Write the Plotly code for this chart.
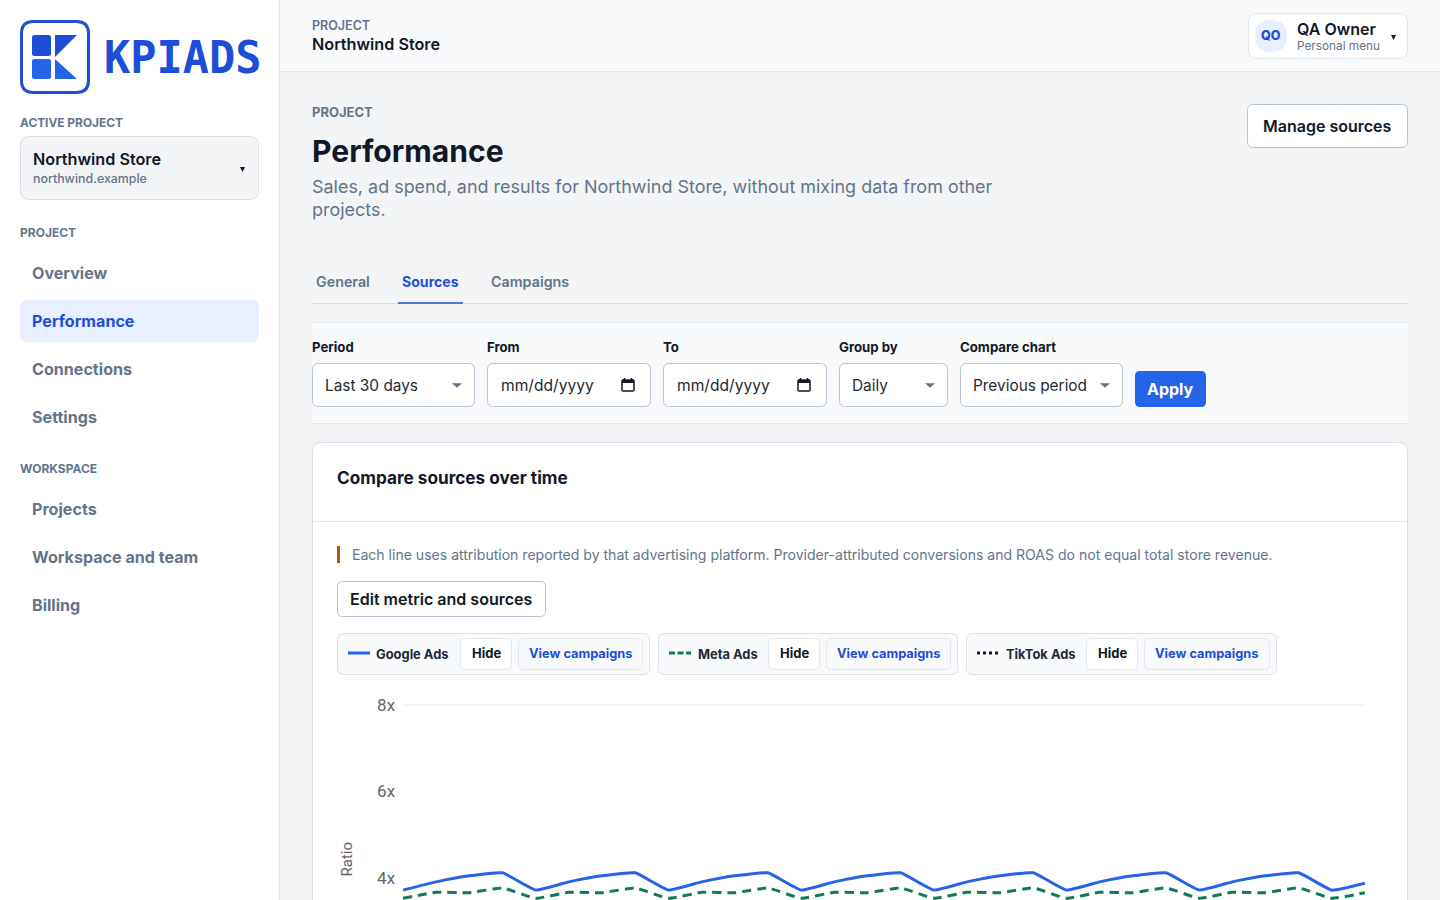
import plotly.graph_objects as go

# ---- chart data ----
day_index = list(range(30))
google_ads = [3.72, 3.91, 4.05, 4.12, 3.72, 3.91, 4.05, 4.12, 3.72, 3.91, 4.05, 4.12, 3.72, 3.91, 4.05,
              4.12, 3.72, 3.91, 4.05, 4.12, 3.72, 3.91, 4.05, 4.12, 3.72, 3.91, 4.05, 4.12, 3.72, 3.88]
meta_ads = [3.53, 3.67, 3.66, 3.77, 3.53, 3.67, 3.66, 3.77, 3.53, 3.67, 3.66, 3.77, 3.53, 3.67, 3.66,
            3.77, 3.53, 3.67, 3.66, 3.77, 3.53, 3.67, 3.66, 3.77, 3.53, 3.67, 3.66, 3.77, 3.53, 3.66]
tick_values = [4, 6, 8]
tick_labels = ["4x", "6x", "8x"]

W, H = 1440, 900
BLUE, BLUE2, GREEN, INK, SLATE = "#1d4ed8", "#2563eb", "#0f7a5c", "#111827", "#64748b"
LINE, LINE2 = "#e2e8f0", "#b8c4d6"
FONT = "Inter"


def px(x):
    return x / W


def py(y):
    return 1 - y / H


shapes, annos = [], []


def P(x, y):
    return f"{px(x):.6f},{py(y):.6f}"


def rr(x0, y0, x1, y1, r=0, fill=None, line=None, lw=1):
    if r:
        d = (f"M{P(x0+r,y0)} L{P(x1-r,y0)} Q{P(x1,y0)} {P(x1,y0+r)} L{P(x1,y1-r)} Q{P(x1,y1)} {P(x1-r,y1)} "
             f"L{P(x0+r,y1)} Q{P(x0,y1)} {P(x0,y1-r)} L{P(x0,y0+r)} Q{P(x0,y0)} {P(x0+r,y0)} Z")
    else:
        d = f"M{P(x0,y0)} L{P(x1,y0)} L{P(x1,y1)} L{P(x0,y1)} Z"
    shapes.append(dict(type="path", path=d, xref="paper", yref="paper", layer="below",
                       fillcolor=fill or "rgba(0,0,0,0)",
                       line=dict(color=line or "rgba(0,0,0,0)", width=lw if line else 0)))


def poly(pts, fill):
    d = "M" + " L".join(P(*p) for p in pts) + " Z"
    shapes.append(dict(type="path", path=d, xref="paper", yref="paper", layer="below",
                       fillcolor=fill, line=dict(width=0, color="rgba(0,0,0,0)")))


def seg(x0, y0, x1, y1, color, w=1, dash=None):
    shapes.append(dict(type="line", xref="paper", yref="paper", layer="below", x0=px(x0), x1=px(x1),
                       y0=py(y0), y1=py(y1), line=dict(color=color, width=w, dash=dash or "solid")))


def txt(x, y, s, size=16, weight=400, color=INK, anchor="left", family=FONT):
    annos.append(dict(xref="paper", yref="paper", x=px(x), y=py(y), text=s, showarrow=False,
                      xanchor=anchor, yanchor="middle", borderpad=0, borderwidth=0,
                      font=dict(family=family, size=size, weight=weight, color=color)))


def caret(cx, cy, w=5, h=5, fill=INK):
    poly([(cx - w / 2, cy - h / 2), (cx + w / 2, cy - h / 2), (cx, cy + h / 2)], fill)


def calendar(cx, cy):
    rr(cx - 6, cy - 5, cx + 6, cy + 6, 1, None, INK, 1.5)
    rr(cx - 6, cy - 5, cx + 6, cy - 2, 0, INK)
    seg(cx - 3.5, cy - 7, cx - 3.5, cy - 5, INK, 1.5)
    seg(cx + 3.5, cy - 7, cx + 3.5, cy - 5, INK, 1.5)


# page regions
rr(0, 0, 1440, 900, 0, "#f3f4f6")
rr(280, 0, 1440, 71, 0, "#f9fafb")
rr(0, 0, 279, 900, 0, "#ffffff")
seg(279.5, 0, 279.5, 900, LINE)
seg(280, 71.5, 1440, 71.5, LINE)

# logo
rr(21.5, 21.5, 88.5, 92.5, 12, "#ffffff", BLUE, 3)
rr(32, 35, 51, 56, 2.5, BLUE)
rr(32, 59, 51, 79, 2.5, BLUE2)
poly([(55, 35), (77, 35), (55, 57)], BLUE)
poly([(55, 59), (77, 79), (55, 79)], BLUE2)
txt(103.5, 58, "KPIADS", 43.6, 700, BLUE, family="DejaVu Sans Mono")

# sidebar
txt(20, 122.6, "ACTIVE PROJECT", 11.9, 700, SLATE)
rr(20.5, 136.5, 258.5, 199.5, 9, "#f3f4f6", "#d8dee8")
txt(33, 159, "Northwind Store", 16.2, 600, INK)
txt(33, 178.6, "northwind.example", 12.4, 500, SLATE)
caret(242.5, 169.5)
txt(20, 232.6, "PROJECT", 12, 700, SLATE)
rr(20, 300, 259, 342, 8, "#e8effe")
for label, y, active in [("Overview", 273, 0), ("Performance", 321, 1), ("Connections", 369, 0), ("Settings", 417, 0),
                         ("Projects", 509, 0), ("Workspace and team", 557, 0), ("Billing", 605, 0)]:
    txt(32, y, label, 16.1, 700, BLUE if active else SLATE)
txt(20, 468.6, "WORKSPACE", 12, 700, SLATE)

# header
txt(312, 26, "PROJECT", 12.5, 600, SLATE)
txt(312, 44, "Northwind Store", 16.2, 600, INK)
rr(1248.5, 13.5, 1407.5, 58.5, 9, "#ffffff", LINE)
rr(1255, 20, 1287, 52, 16, "#e8effe")
txt(1271, 35.5, "QO", 12.5, 800, BLUE, "center")
txt(1297, 29, "QA Owner", 16, 600, INK)
txt(1297, 46, "Personal menu", 11.8, 400, SLATE)
caret(1393.5, 37.5)

# title block
txt(312, 112, "PROJECT", 13, 700, SLATE)
txt(312, 151, "Performance", 30.1, 700, INK)
txt(312, 186, "Sales, ad spend, and results for Northwind Store, without mixing data from other", 17.95, 400, SLATE)
txt(312, 209, "projects.", 17.95, 400, SLATE)
rr(1247.5, 104.5, 1407.5, 147.5, 6, "#ffffff", LINE2)
txt(1327.5, 126, "Manage sources", 16, 600, INK, "center")

# tabs
seg(312, 303.5, 1408, 303.5, "#d8dee8")
seg(398, 303, 463, 303, BLUE, 1.5)
txt(316, 281.4, "General", 14.3, 600, SLATE)
txt(402, 281.4, "Sources", 14.1, 700, BLUE)
txt(491, 281.4, "Campaigns", 14.3, 600, SLATE)

# filter bar
rr(312, 322, 1408, 424, 0, "#f8fafc")
seg(312, 322.5, 1408, 322.5, LINE)
seg(312, 423.5, 1408, 423.5, LINE)
for label, x in [("Period", 312), ("From", 487), ("To", 663), ("Group by", 839), ("Compare chart", 960)]:
    txt(x, 347, label, 13.2, 700, INK)
for x0, x1, value, kind in [(312, 475, "Last 30 days", "s"), (487, 651, "mm/dd/yyyy", "d"), (663, 827, "mm/dd/yyyy", "d"),
                            (839, 948, "Daily", "s"), (960, 1123, "Previous period", "s")]:
    rr(x0 + .5, 363.5, x1 - .5, 406.5, 6, "#ffffff", LINE2)
    txt(x0 + (14 if kind == "d" else 13), 385, value, 15.6 if kind == "d" else 15.4, 400, "#1f2937")
    if kind == "s":
        caret(x1 - 18, 385.5, 10, 4.5, SLATE)
    else:
        calendar(x1 - 23, 385)
rr(1135, 371, 1206, 407, 5, BLUE2)
txt(1170.5, 389.5, "Apply", 16, 700, "#ffffff", "center")

# card
rr(312.5, 442.5, 1407.5, 930, 9, "#ffffff", "#d8dee8")
seg(313, 521.5, 1407, 521.5, LINE)
txt(337, 477.4, "Compare sources over time", 17.2, 700, INK)
rr(337, 546, 340, 563, 0, "#b45309")
txt(352, 554.6, "Each line uses attribution reported by that advertising platform. "
                "Provider-attributed conversions and ROAS do not equal total store revenue.", 14.05, 400, SLATE)
rr(337.5, 581.5, 545.5, 616.5, 5, "#ffffff", LINE2)
txt(441, 599, "Edit metric and sources", 16.05, 600, INK, "center")

# custom legend
chips = [(337, 650, 348, "Google Ads", 376, 460, 512, 518, 643, BLUE2, "solid"),
         (658, 958, 669, "Meta Ads", 698, 768, 820, 826, 951, GREEN, "6px,2.5px"),
         (966, 1277, 977, "TikTok Ads", 1006, 1086, 1138, 1144, 1270, INK, "3px,3px")]
for x0, x1, lx, name, tx, h0, h1, v0, v1, col, dash in chips:
    rr(x0 + .5, 633.5, x1 - .5, 674.5, 6, "#f8fafc", "#dbe1ea")
    seg(lx, 653, lx + 22, 653, col, 3, dash)
    txt(tx, 654, name, 12.9, 700, "#1f2937")
    rr(h0 + .5, 638.5, h1 - .5, 669.5, 5, "#ffffff", LINE)
    txt((h0 + h1) / 2, 653, "Hide", 13, 700, INK, "center")
    rr(v0 + .5, 638.5, v1 - .5, 669.5, 5, "#f8fafc", LINE)
    txt((v0 + v1) / 2 - 0.5, 653, "View campaigns", 12.8, 700, BLUE, "center")

# top gridline and rotated axis title of the chart
seg(403, 705, 1365, 705, "#f5f5f5", 2)
annos.append(dict(xref="paper", yref="paper", x=px(346.5), y=py(859), text="Ratio", showarrow=False, textangle=-90,
                  xanchor="center", yanchor="middle", font=dict(family="Roboto", size=15, color="#666666")))

fig = go.Figure()
fig.add_trace(go.Scatter(x=day_index, y=google_ads, name="Google Ads", mode="lines",
                         line=dict(color=BLUE2, width=3, shape="spline", smoothing=0.35)))
fig.add_trace(go.Scatter(x=day_index, y=meta_ads, name="Meta Ads", mode="lines",
                         line=dict(color=GREEN, width=3, shape="spline", smoothing=0.35, dash="9px,6px")))

PX_PER_UNIT = 43.25
fig.update_layout(
    width=W, height=H, margin=dict(l=0, r=0, t=0, b=0, pad=0, autoexpand=False), showlegend=False, hovermode=False,
    paper_bgcolor="#f3f4f6", plot_bgcolor="rgba(0,0,0,0)", font=dict(family=FONT),
    shapes=shapes, annotations=annos,
    xaxis=dict(domain=[px(403), px(1365)], range=[0, 29], visible=False, fixedrange=True),
    yaxis=dict(domain=[0, py(705)], range=[4 - (900 - 878) / PX_PER_UNIT, 8], tickmode="array",
               tickvals=tick_values, ticktext=tick_labels, showgrid=False,
               zeroline=False, showline=False, ticks="outside", ticklen=3.5, tickcolor="rgba(0,0,0,0)",
               tickfont=dict(family="Roboto", size=17, color="#666666"), fixedrange=True),
)
fig.write_html("out.html", config={"displayModeBar": False},
               post_script="document.body.style.margin='0';document.body.style.overflow='hidden';")
